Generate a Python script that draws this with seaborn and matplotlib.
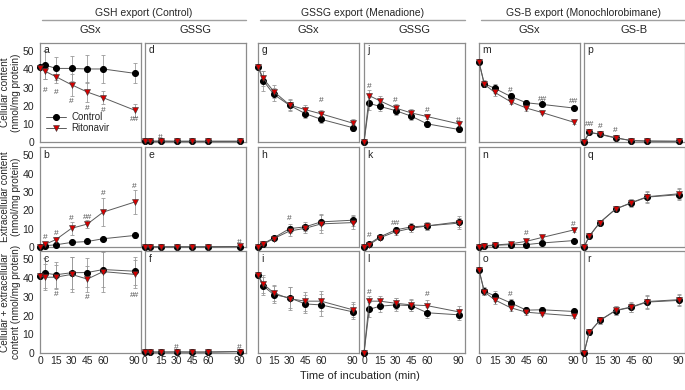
import numpy as np
import matplotlib
matplotlib.use('Agg')
import matplotlib.pyplot as plt
import seaborn as sns

times = [0, 5, 15, 30, 45, 60, 90]
panel_ids = ['a', 'd', 'g', 'j', 'm', 'p',
             'b', 'e', 'h', 'k', 'n', 'q',
             'c', 'f', 'i', 'l', 'o', 'r']

# mean values (nmol/mg protein), control and ritonavir
a_ctl = [41.1, 42.4, 40.5, 40.5, 40.2, 40.2, 37.8]
a_rit = [41.0, 38.9, 36.0, 31.5, 27.5, 24.4, 17.5]
d_ctl = [0.5, 0.5, 0.5, 0.5, 0.5, 0.5, 0.5]
d_rit = [0.5, 0.5, 0.6, 0.5, 0.5, 0.5, 0.5]
g_ctl = [41.5, 33.8, 26.2, 20.2, 15.6, 12.5, 7.9]
g_rit = [41.5, 35.0, 27.8, 20.4, 17.8, 15.5, 10.4]
j_ctl = [0.0, 21.3, 19.6, 17.3, 14.2, 10.0, 6.9]
j_rit = [0.0, 25.5, 22.7, 18.7, 16.0, 14.0, 10.0]
m_ctl = [44.0, 32.2, 29.5, 25.1, 21.6, 20.7, 18.7]
m_rit = [44.0, 31.8, 27.3, 22.2, 18.7, 16.2, 10.9]
p_ctl = [0.0, 5.3, 4.4, 2.4, 0.7, 0.5, 0.4]
p_rit = [0.0, 5.3, 4.2, 2.2, 0.8, 0.5, 0.4]

b_ctl = [0.0, 0.7, 1.2, 2.5, 3.0, 4.5, 6.3]
b_rit = [0.2, 1.5, 4.0, 10.2, 12.5, 19.0, 24.5]
e_ctl = [0.1, 0.1, 0.1, 0.1, 0.1, 0.1, 0.2]
e_rit = [0.1, 0.1, 0.1, 0.1, 0.1, 0.1, 0.3]
h_ctl = [0.0, 1.8, 5.0, 10.0, 11.0, 13.7, 14.6]
h_rit = [0.0, 1.5, 4.6, 8.7, 10.2, 12.6, 13.3]
k_ctl = [0.0, 1.8, 5.5, 9.3, 11.0, 11.5, 13.7]
k_rit = [0.0, 1.3, 5.0, 8.3, 10.2, 11.5, 13.0]
n_ctl = [0.0, 0.4, 0.9, 1.3, 1.3, 2.2, 3.5]
n_rit = [0.0, 0.7, 1.1, 1.7, 3.1, 5.2, 9.3]
q_ctl = [0.0, 5.9, 13.3, 20.7, 24.0, 27.2, 28.5]
q_rit = [0.0, 5.9, 13.3, 20.7, 24.2, 27.4, 29.0]

c_ctl = [40.9, 42.7, 41.8, 42.9, 43.0, 44.6, 43.7]
c_rit = [41.0, 40.5, 40.5, 42.0, 39.5, 43.5, 42.0]
f_ctl = [0.5, 0.5, 0.5, 0.5, 0.5, 0.5, 0.7]
f_rit = [0.5, 0.5, 0.5, 0.6, 0.5, 0.5, 0.8]
i_ctl = [41.5, 35.8, 31.2, 29.5, 26.2, 25.7, 22.0]
i_rit = [41.5, 36.9, 32.1, 29.0, 27.7, 27.7, 23.1]
l_ctl = [0.0, 23.3, 25.0, 25.7, 25.3, 21.5, 20.4]
l_rit = [0.0, 27.7, 27.7, 26.6, 25.7, 25.3, 22.0]
o_ctl = [44.4, 33.0, 30.5, 26.8, 22.9, 23.1, 22.2]
o_rit = [44.4, 32.7, 28.4, 24.2, 21.8, 21.1, 19.8]
r_ctl = [0.0, 11.0, 17.4, 22.6, 24.4, 27.2, 28.1]
r_rit = [0.0, 11.0, 17.4, 22.8, 24.6, 27.5, 28.5]

# error bars (SD)
a_ctl_sd = [1.0, 7.5, 6.5, 7.0, 7.5, 7.5, 5.5]
a_rit_sd = [1.0, 4.0, 3.5, 6.0, 5.5, 3.5, 3.5]
d_ctl_sd = [0.2] * 7
d_rit_sd = [0.2] * 7
g_ctl_sd = [1.0, 5.5, 3.5, 3.0, 2.5, 2.0, 2.0]
g_rit_sd = [1.0, 4.0, 3.5, 3.0, 2.5, 2.0, 2.0]
j_ctl_sd = [0.3, 3.5, 2.5, 2.5, 2.0, 1.5, 1.5]
j_rit_sd = [0.3, 3.0, 2.5, 2.0, 2.0, 1.5, 1.5]
m_ctl_sd = [1.0, 2.0, 2.5, 2.0, 1.5, 1.0, 1.0]
m_rit_sd = [1.0, 1.5, 2.0, 1.5, 1.5, 1.0, 1.0]
p_ctl_sd = [0.2, 1.0, 1.0, 0.8, 0.3, 0.2, 0.2]
p_rit_sd = [0.2, 1.0, 1.0, 0.8, 0.3, 0.2, 0.2]

b_ctl_sd = [0.2, 0.5, 0.6, 0.5, 0.6, 0.7, 1.2]
b_rit_sd = [0.2, 0.8, 1.5, 3.5, 2.0, 7.5, 6.5]
e_ctl_sd = [0.1] * 7
e_rit_sd = [0.1] * 7
h_ctl_sd = [0.2, 0.6, 1.0, 2.5, 2.5, 4.5, 3.0]
h_rit_sd = [0.2, 0.6, 1.0, 2.5, 2.5, 5.0, 3.5]
k_ctl_sd = [0.2, 0.8, 1.0, 1.5, 2.0, 2.0, 3.0]
k_rit_sd = [0.2, 0.8, 1.0, 1.5, 2.0, 2.0, 3.0]
n_ctl_sd = [0.1, 0.2, 0.2, 0.3, 0.4, 0.4, 0.5]
n_rit_sd = [0.1, 0.2, 0.2, 0.4, 0.7, 0.8, 1.0]
q_ctl_sd = [0.2, 0.8, 1.0, 1.2, 2.0, 3.0, 3.0]
q_rit_sd = [0.2, 0.8, 1.0, 1.2, 2.0, 3.0, 3.0]

c_ctl_sd = [1.0, 8.0, 7.0, 8.5, 7.5, 9.5, 7.5]
c_rit_sd = [1.0, 7.0, 6.5, 9.5, 7.0, 11.0, 7.5]
f_ctl_sd = [0.2] * 7
f_rit_sd = [0.2] * 7
i_ctl_sd = [1.0, 5.0, 4.5, 5.5, 5.0, 6.0, 4.0]
i_rit_sd = [1.0, 5.0, 4.5, 6.0, 5.0, 5.5, 4.0]
l_ctl_sd = [0.3, 4.0, 3.0, 3.5, 3.0, 3.0, 3.0]
l_rit_sd = [0.3, 3.0, 3.0, 3.0, 3.0, 3.0, 3.0]
o_ctl_sd = [1.0, 2.0, 2.5, 2.0, 1.5, 1.5, 1.0]
o_rit_sd = [1.0, 1.5, 2.0, 1.5, 1.5, 1.0, 1.0]
r_ctl_sd = [0.2, 1.5, 2.0, 2.5, 2.5, 3.5, 3.0]
r_rit_sd = [0.2, 1.5, 2.0, 2.5, 2.5, 3.5, 3.0]

# significance marks: (time, label, height)
a_sig = [(5, '#', 28.5), (15, '#', 27), (30, '#', 22.5), (45, '#', 18.5), (60, '#', 17.5), (90, '##', 12.5)]
d_sig = [(15, '#', 2.5)]
g_sig = [(60, '#', 23)]
j_sig = [(5, '#', 30.5), (30, '#', 23), (60, '#', 17.5), (90, '#', 12)]
m_sig = [(30, '#', 28.5), (60, '##', 23.5), (90, '##', 22.5)]
p_sig = [(5, '##', 9.5), (15, '#', 8.5), (30, '#', 6.3)]
b_sig = [(5, '#', 5), (15, '#', 7.5), (30, '#', 15.5), (45, '##', 16), (60, '#', 29), (90, '#', 33)]
e_sig = [(90, '#', 2.5)]
h_sig = [(30, '#', 15.5)]
k_sig = [(5, '#', 6), (30, '##', 13)]
n_sig = [(45, '#', 7.5), (90, '#', 12.5)]
q_sig = []
c_sig = [(15, '#', 31.5), (45, '#', 29.5), (90, '##', 30.5)]
f_sig = [(30, '#', 3), (90, '#', 3)]
i_sig = []
l_sig = [(5, '#', 32.5), (60, '#', 31)]
o_sig = [(30, '#', 31)]
r_sig = []

row_labels = ['Cellular content\n(nmol/mg protein)',
              'Extracellular content\n(nmol/mg protein)',
              'Cellular + extracellular\ncontent (nmol/mg protein)']
group_titles = ['GSH export (Control)', 'GSSG export (Menadione)', 'GS-B export (Monochlorobimane)']
col_titles = ['GSx', 'GSSG', 'GSx', 'GSSG', 'GSx', 'GS-B']

sns.set_style('white')
plt.rcParams['font.family'] = ['Liberation Sans', 'DejaVu Sans']

W, H = 685, 390
fig = plt.figure(figsize=(6.85, 3.9), dpi=100)

col_left = [40, 145, 258, 364, 479, 584]
col_w = 101
row_top = [43, 147, 251]
row_bot = [142, 247, 353]
frame = '#8c8c8c'
line_col = '#5a5a5a'

g = globals()
for idx, pid in enumerate(panel_ids):
    r, c = divmod(idx, 6)
    ax = fig.add_axes([col_left[c] / W, 1 - row_bot[r] / H, col_w / W,
                       (row_bot[r] - row_top[r]) / H])
    ctl, rit = g[pid + '_ctl'], g[pid + '_rit']
    ax.errorbar(times, ctl, yerr=g[pid + '_ctl_sd'], fmt='none', ecolor='#9a9a9a',
                elinewidth=0.6, capsize=1.3, capthick=0.6, zorder=2, clip_on=False)
    ax.errorbar(times, rit, yerr=g[pid + '_rit_sd'], fmt='none', ecolor='#9a9a9a',
                elinewidth=0.6, capsize=1.3, capthick=0.6, zorder=2, clip_on=False)
    sns.lineplot(x=times, y=ctl, ax=ax, color=line_col, lw=0.7, marker='o',
                 markersize=4.3, markerfacecolor='black', markeredgecolor='black',
                 label='Control', legend=False, zorder=3, clip_on=False)
    sns.lineplot(x=times, y=rit, ax=ax, color=line_col, lw=0.7, marker='v',
                 markersize=4.6, markerfacecolor='#d40000', markeredgecolor='#333333',
                 markeredgewidth=0.4, label='Ritonavir', legend=False, zorder=4,
                 clip_on=False)
    for t, s, yv in g[pid + '_sig']:
        ax.text(t, yv, s, ha='center', va='center', fontsize=6, color='#505050')
    ax.set_xlim(0, 96)
    ax.set_ylim(0, 54.5)
    ax.set_xticks([0, 15, 30, 45, 60, 90])
    ax.set_yticks([0, 10, 20, 30, 40, 50])
    for sp in ax.spines.values():
        sp.set_color(frame)
        sp.set_linewidth(0.9)
    ax.tick_params(direction='in', length=2.2, color=frame, labelsize=7.5, pad=2)
    ax.set_xlabel('')
    if c == 0:
        ax.tick_params(axis='y', direction='out')
        ax.set_ylabel(row_labels[r], fontsize=7.2, linespacing=1.15)
        ax.yaxis.set_label_coords(-0.19, 0.5)
    else:
        ax.set_yticklabels([])
        ax.set_ylabel('')
    if r < 2:
        ax.set_xticklabels([])
    ax.text(0.035, 0.975, pid, transform=ax.transAxes, ha='left', va='top', fontsize=7.5)
    if pid == 'a':
        ax.legend(loc='lower left', bbox_to_anchor=(-0.01, 0.02), frameon=False,
                  fontsize=7, handlelength=2.1, handletextpad=0.5, labelspacing=0.1,
                  borderpad=0.2)
    if r == 0:
        ax.set_title(col_titles[c], fontsize=8, pad=7)

# group headers with grey rules
for gi, title in enumerate(group_titles):
    x0 = col_left[2 * gi] + 2
    x1 = col_left[2 * gi + 1] + col_w
    fig.text((x0 + x1) / 2 / W, 1 - 13 / H, title, ha='center', va='center', fontsize=7.5)
    fig.add_artist(plt.Line2D([x0 / W, x1 / W], [1 - 20 / H, 1 - 20 / H],
                              color='#a0a0a0', lw=1))

fig.text(360 / W, 1 - 376 / H, 'Time of incubation (min)', ha='center', va='center',
         fontsize=8)

fig.savefig('out.png', dpi=100)
